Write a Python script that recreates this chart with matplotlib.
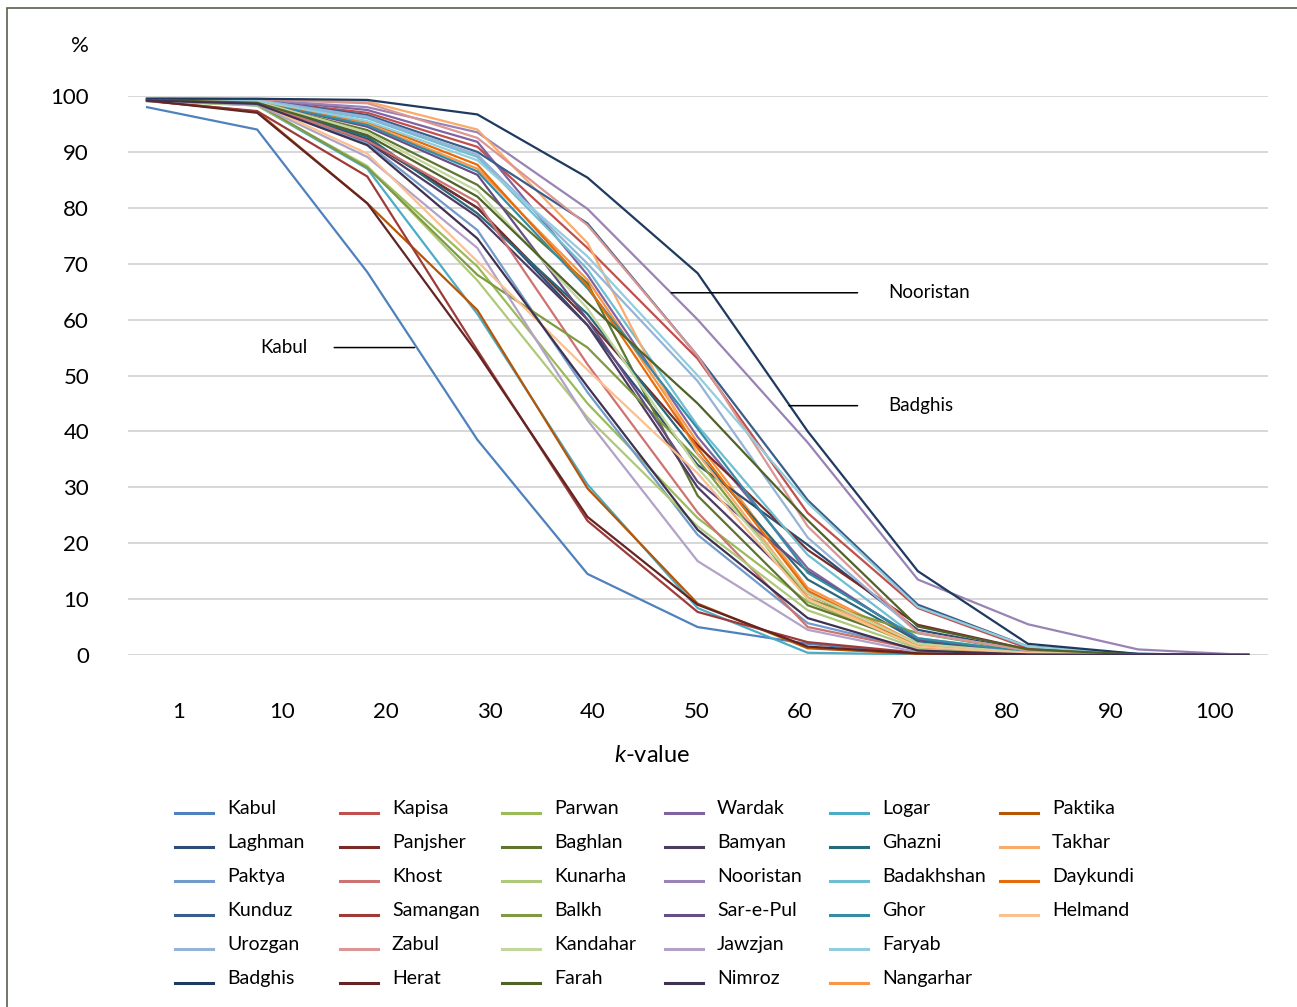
import matplotlib
matplotlib.use("Agg")
import matplotlib.pyplot as plt
import numpy as np
from matplotlib.lines import Line2D
from matplotlib.patches import Rectangle

plt.rcParams['font.family'] = ['Lato', 'DejaVu Sans']
plt.rcParams['mathtext.fontset'] = 'custom'
plt.rcParams['mathtext.it'] = 'Lato:italic'
plt.rcParams['mathtext.rm'] = 'Lato'

k_labels = ["1", "10", "20", "30", "40", "50", "60", "70", "80", "90", "100"]

# series order (drawing order), values in % for k = 1,10,...,100
provinces = ["Kabul", "Kapisa", "Parwan", "Wardak", "Logar", "Nangarhar",
             "Laghman", "Panjsher", "Baghlan", "Bamyan", "Ghazni", "Paktika",
             "Paktya", "Khost", "Kunarha", "Nooristan", "Badakhshan", "Takhar",
             "Kunduz", "Samangan", "Balkh", "Sar-e-Pul", "Ghor", "Daykundi",
             "Urozgan", "Zabul", "Kandahar", "Jawzjan", "Faryab", "Helmand",
             "Badghis", "Herat", "Farah", "Nimroz"]

colors = ["#4F81BD", "#C0504D", "#9BBB59", "#8064A2", "#4BACC6", "#F79646",
          "#2C4D75", "#772C2A", "#5F7530", "#4D3B62", "#276A7C", "#B65708",
          "#729ACA", "#CD7371", "#AFC97A", "#9983B5", "#6FBDD1", "#F9AB6B",
          "#3A5E8C", "#9E3B38", "#7F9A41", "#664D83", "#358DA5", "#E46C0A",
          "#95B3D7", "#D99694", "#C3D69B", "#B3A2C7", "#93CDDD", "#FAC090",
          "#1F3A5F", "#632523", "#4F6228", "#3F3151"]

Kabul      = [98.0, 94.0, 68.5, 38.5, 14.5, 5.0, 2.0, 0.3, 0.0, 0.0, 0.0]
Kapisa     = [99.4, 99.2, 97.0, 90.9, 72.8, 53.0, 25.4, 8.4, 1.2, 0.1, 0.0]
Parwan     = [99.2, 98.4, 87.3, 69.5, 45.0, 24.5, 9.5, 1.5, 0.2, 0.0, 0.0]
Wardak     = [99.6, 99.4, 97.5, 91.8, 68.0, 39.0, 15.5, 2.5, 0.5, 0.0, 0.0]
Logar      = [99.3, 98.3, 87.0, 61.0, 30.5, 8.4, 0.4, 0.1, 0.0, 0.0, 0.0]
Nangarhar  = [99.5, 99.1, 95.0, 87.0, 67.1, 38.0, 12.0, 2.0, 0.4, 0.0, 0.0]
Laghman    = [99.4, 99.0, 92.3, 80.0, 59.0, 34.0, 19.7, 4.5, 0.8, 0.1, 0.0]
Panjsher   = [99.2, 98.5, 92.0, 80.0, 60.0, 37.5, 18.8, 5.4, 1.0, 0.1, 0.0]
Baghlan    = [99.3, 98.8, 93.9, 84.1, 66.5, 28.5, 8.9, 2.0, 0.3, 0.0, 0.0]
Bamyan     = [99.3, 98.7, 91.8, 78.4, 59.0, 30.0, 11.0, 1.8, 0.3, 0.0, 0.0]
Ghazni     = [99.3, 98.7, 92.7, 79.0, 61.0, 36.0, 13.5, 2.5, 0.4, 0.0, 0.0]
Paktika    = [99.2, 97.2, 80.8, 61.7, 29.8, 9.2, 1.2, 0.2, 0.0, 0.0, 0.0]
Paktya     = [99.2, 98.6, 91.5, 76.0, 47.0, 21.5, 5.7, 1.0, 0.1, 0.0, 0.0]
Khost      = [99.3, 98.8, 92.0, 81.0, 52.0, 25.5, 5.0, 1.0, 0.2, 0.0, 0.0]
Kunarha    = [99.1, 98.3, 87.5, 67.0, 42.5, 23.0, 8.0, 1.2, 0.1, 0.0, 0.0]
Nooristan  = [99.5, 99.3, 98.0, 93.5, 79.8, 60.0, 38.0, 13.5, 5.5, 1.0, 0.0]
Badakhshan = [99.5, 99.2, 96.0, 89.1, 69.0, 41.0, 17.9, 3.0, 0.6, 0.0, 0.0]
Takhar     = [99.6, 99.5, 99.0, 94.0, 73.7, 36.0, 10.4, 1.8, 0.3, 0.0, 0.0]
Kunduz     = [99.5, 99.3, 96.6, 90.0, 77.2, 53.5, 27.7, 9.0, 1.5, 0.2, 0.0]
Samangan   = [99.1, 97.3, 85.6, 54.5, 24.0, 7.7, 2.3, 0.4, 0.0, 0.0, 0.0]
Balkh      = [99.2, 98.5, 87.2, 68.0, 55.0, 35.0, 10.0, 3.9, 0.6, 0.0, 0.0]
SarePul    = [99.4, 99.0, 94.5, 85.9, 60.0, 31.0, 15.0, 2.8, 0.5, 0.0, 0.0]
Ghor       = [99.4, 99.0, 94.8, 86.5, 65.6, 40.5, 14.7, 3.0, 0.5, 0.0, 0.0]
Daykundi   = [99.5, 99.1, 95.4, 87.7, 66.0, 37.0, 11.5, 1.5, 0.3, 0.0, 0.0]
Urozgan    = [99.5, 99.3, 96.3, 89.5, 70.0, 49.0, 21.0, 4.0, 0.8, 0.1, 0.0]
Zabul      = [99.6, 99.4, 98.7, 92.5, 76.9, 53.5, 23.0, 4.0, 0.8, 0.1, 0.0]
Kandahar   = [99.4, 99.0, 93.5, 83.0, 62.0, 33.5, 11.0, 2.0, 0.4, 0.0, 0.0]
Jawzjan    = [99.1, 98.5, 89.1, 72.8, 42.0, 16.8, 4.5, 0.5, 0.1, 0.0, 0.0]
Faryab     = [99.5, 99.2, 95.5, 88.5, 71.3, 50.0, 27.2, 8.6, 1.5, 0.2, 0.0]
Helmand    = [99.3, 98.8, 89.7, 70.4, 51.0, 32.5, 10.0, 1.5, 0.3, 0.0, 0.0]
Badghis    = [99.5, 99.5, 99.3, 96.7, 85.4, 68.3, 40.0, 15.0, 2.0, 0.2, 0.0]
Herat      = [99.2, 97.0, 80.8, 54.0, 24.7, 9.0, 1.5, 0.3, 0.0, 0.0, 0.0]
Farah      = [99.3, 98.8, 93.0, 82.0, 63.0, 45.0, 24.1, 5.1, 1.0, 0.1, 0.0]
Nimroz     = [99.2, 98.6, 91.2, 74.5, 48.0, 22.4, 6.6, 0.8, 0.1, 0.0, 0.0]

series = [Kabul, Kapisa, Parwan, Wardak, Logar, Nangarhar, Laghman, Panjsher,
          Baghlan, Bamyan, Ghazni, Paktika, Paktya, Khost, Kunarha, Nooristan,
          Badakhshan, Takhar, Kunduz, Samangan, Balkh, SarePul, Ghor, Daykundi,
          Urozgan, Zabul, Kandahar, Jawzjan, Faryab, Helmand, Badghis, Herat,
          Farah, Nimroz]

# legend layout (column-wise as in the original)
legend_columns = [
    ["Kabul", "Laghman", "Paktya", "Kunduz", "Urozgan", "Badghis"],
    ["Kapisa", "Panjsher", "Khost", "Samangan", "Zabul", "Herat"],
    ["Parwan", "Baghlan", "Kunarha", "Balkh", "Kandahar", "Farah"],
    ["Wardak", "Bamyan", "Nooristan", "Sar-e-Pul", "Jawzjan", "Nimroz"],
    ["Logar", "Ghazni", "Badakhshan", "Ghor", "Faryab", "Nangarhar"],
    ["Paktika", "Takhar", "Daykundi", "Helmand"],
]

W, H = 1297, 1007
fig = plt.figure(figsize=(W / 100, H / 100), dpi=100)
fig.patch.set_facecolor("white")

# outer frame
fig.add_artist(Rectangle((7 / W, -0.05), 1.2, 1 - 8 / H + 0.05, transform=fig.transFigure,
                         fill=False, edgecolor="#56604C", linewidth=1.2))

ax = fig.add_axes([128 / W, (H - 655) / H, (1268 - 128) / W, (655 - 96) / H])
x = np.arange(len(k_labels))
for name, vals, c in zip(provinces, series, colors):
    ax.plot(x, vals, color=c, linewidth=1.6, solid_joinstyle="miter")

ax.set_xlim(-0.173, 10.18)
ax.set_ylim(0, 100)
ax.set_yticks(np.arange(0, 101, 10))
ax.yaxis.grid(True, color="#D4D4D4", linewidth=1.3)
ax.set_axisbelow(True)
for s in ax.spines.values():
    s.set_visible(False)
ax.set_xticks(np.linspace(0.29, 9.69, len(k_labels)))
ax.set_xticklabels(k_labels)
ax.tick_params(axis="x", length=0, pad=34, labelsize=16)
ax.tick_params(axis="y", length=0, pad=28, labelsize=16)

# annotations
ax.annotate("Kabul", xy=(2.43, 55.0), xytext=(1.46, 55.0), fontsize=13.5,
            ha="right", va="center",
            arrowprops=dict(arrowstyle="-", color="black", lw=1.1,
                            shrinkA=17, shrinkB=0))
ax.annotate("Nooristan", xy=(4.76, 64.8), xytext=(6.73, 64.8), fontsize=13.5,
            ha="left", va="center",
            arrowprops=dict(arrowstyle="-", color="black", lw=1.1,
                            shrinkA=20, shrinkB=0))
ax.annotate("Badghis", xy=(5.83, 44.6), xytext=(6.73, 44.6), fontsize=13.5,
            ha="left", va="center",
            arrowprops=dict(arrowstyle="-", color="black", lw=1.1,
                            shrinkA=20, shrinkB=0))

fig.text(80 / W, 1 - 46 / H, "%", fontsize=16, ha="center", va="center")
fig.text(652 / W, 1 - 755 / H, r"$k$-value", fontsize=17, ha="center", va="center")

# manual legend
col_x = [175, 340, 502, 665, 830, 1000]
row_y = [807, 841, 875, 909, 943, 977]
cmap = dict(zip(provinces, colors))
for ci, col in enumerate(legend_columns):
    for ri, name in enumerate(col):
        y = 1 - (row_y[ri] + 6) / H
        fig.add_artist(Line2D([col_x[ci] / W, (col_x[ci] + 38) / W], [y, y],
                              transform=fig.transFigure, color=cmap[name], linewidth=2.2))
        fig.text((col_x[ci] + 52) / W, 1 - (row_y[ri] + 7) / H, name, fontsize=14,
                 ha="left", va="baseline")

fig.savefig("out.png", dpi=100, facecolor="white")
